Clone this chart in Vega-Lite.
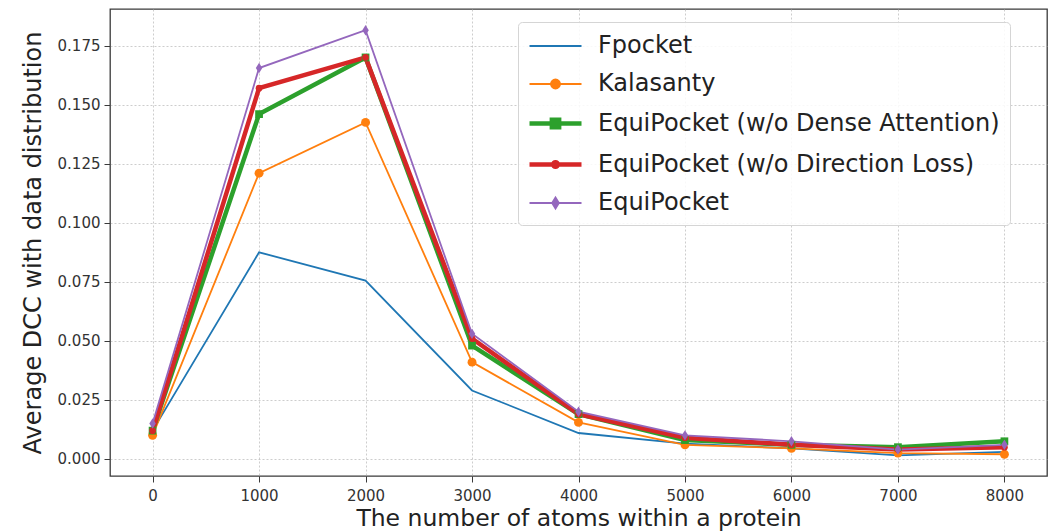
{
  "$schema": "https://vega.github.io/schema/vega-lite/v6.json",
  "width": 937,
  "height": 467,
  "autosize": {"type": "none"},
  "padding": {"left": 110, "top": 9, "right": 9, "bottom": 56},
  "background": "white",
  "config": {
    "font": "DejaVu Sans",
    "view": {"stroke": "#3a3a3a", "strokeWidth": 1.3},
    "axis": {
      "labelFont": "DejaVu Sans",
      "titleFont": "DejaVu Sans",
      "labelFontSize": 15,
      "labelColor": "#333",
      "titleFontSize": 23.5,
      "titleFontWeight": "normal",
      "titleColor": "#222",
      "tickColor": "#3a3a3a",
      "tickSize": 6,
      "domain": false,
      "gridColor": "#b8b8b8",
      "gridDash": [2, 2],
      "gridOpacity": 0.7,
      "gridWidth": 1
    }
  },
  "data": {
    "values": [
      {"method": "Fpocket", "atoms": 0, "dcc": 0.012},
      {"method": "Fpocket", "atoms": 1000, "dcc": 0.0875},
      {"method": "Fpocket", "atoms": 2000, "dcc": 0.0755},
      {"method": "Fpocket", "atoms": 3000, "dcc": 0.029},
      {"method": "Fpocket", "atoms": 4000, "dcc": 0.011},
      {"method": "Fpocket", "atoms": 5000, "dcc": 0.0065},
      {"method": "Fpocket", "atoms": 6000, "dcc": 0.0045},
      {"method": "Fpocket", "atoms": 7000, "dcc": 0.0015},
      {"method": "Fpocket", "atoms": 8000, "dcc": 0.003},
      {"method": "Kalasanty", "atoms": 0, "dcc": 0.010},
      {"method": "Kalasanty", "atoms": 1000, "dcc": 0.121},
      {"method": "Kalasanty", "atoms": 2000, "dcc": 0.1425},
      {"method": "Kalasanty", "atoms": 3000, "dcc": 0.041},
      {"method": "Kalasanty", "atoms": 4000, "dcc": 0.0155},
      {"method": "Kalasanty", "atoms": 5000, "dcc": 0.006},
      {"method": "Kalasanty", "atoms": 6000, "dcc": 0.0045},
      {"method": "Kalasanty", "atoms": 7000, "dcc": 0.0025},
      {"method": "Kalasanty", "atoms": 8000, "dcc": 0.002},
      {"method": "EquiPocket (w/o Dense Attention)", "atoms": 0, "dcc": 0.012},
      {"method": "EquiPocket (w/o Dense Attention)", "atoms": 1000, "dcc": 0.146},
      {"method": "EquiPocket (w/o Dense Attention)", "atoms": 2000, "dcc": 0.170},
      {"method": "EquiPocket (w/o Dense Attention)", "atoms": 3000, "dcc": 0.048},
      {"method": "EquiPocket (w/o Dense Attention)", "atoms": 4000, "dcc": 0.019},
      {"method": "EquiPocket (w/o Dense Attention)", "atoms": 5000, "dcc": 0.008},
      {"method": "EquiPocket (w/o Dense Attention)", "atoms": 6000, "dcc": 0.006},
      {"method": "EquiPocket (w/o Dense Attention)", "atoms": 7000, "dcc": 0.005},
      {"method": "EquiPocket (w/o Dense Attention)", "atoms": 8000, "dcc": 0.0075},
      {"method": "EquiPocket (w/o Direction Loss)", "atoms": 0, "dcc": 0.012},
      {"method": "EquiPocket (w/o Direction Loss)", "atoms": 1000, "dcc": 0.157},
      {"method": "EquiPocket (w/o Direction Loss)", "atoms": 2000, "dcc": 0.170},
      {"method": "EquiPocket (w/o Direction Loss)", "atoms": 3000, "dcc": 0.051},
      {"method": "EquiPocket (w/o Direction Loss)", "atoms": 4000, "dcc": 0.019},
      {"method": "EquiPocket (w/o Direction Loss)", "atoms": 5000, "dcc": 0.009},
      {"method": "EquiPocket (w/o Direction Loss)", "atoms": 6000, "dcc": 0.006},
      {"method": "EquiPocket (w/o Direction Loss)", "atoms": 7000, "dcc": 0.004},
      {"method": "EquiPocket (w/o Direction Loss)", "atoms": 8000, "dcc": 0.005},
      {"method": "EquiPocket", "atoms": 0, "dcc": 0.015},
      {"method": "EquiPocket", "atoms": 1000, "dcc": 0.1655},
      {"method": "EquiPocket", "atoms": 2000, "dcc": 0.1815},
      {"method": "EquiPocket", "atoms": 3000, "dcc": 0.053},
      {"method": "EquiPocket", "atoms": 4000, "dcc": 0.020},
      {"method": "EquiPocket", "atoms": 5000, "dcc": 0.010},
      {"method": "EquiPocket", "atoms": 6000, "dcc": 0.0075},
      {"method": "EquiPocket", "atoms": 7000, "dcc": 0.004},
      {"method": "EquiPocket", "atoms": 8000, "dcc": 0.006}
    ]
  },
  "encoding": {
    "x": {
      "field": "atoms", "type": "quantitative",
      "scale": {"domain": [-400, 8400], "nice": false, "zero": false},
      "axis": {"values": [0, 1000, 2000, 3000, 4000, 5000, 6000, 7000, 8000], "format": "d", "title": "The number of atoms within a protein", "labelPadding": 6, "titlePadding": 3}
    },
    "y": {
      "field": "dcc", "type": "quantitative",
      "scale": {"domain": [-0.0072, 0.1905], "nice": false, "zero": false},
      "axis": {"values": [0, 0.025, 0.05, 0.075, 0.1, 0.125, 0.15, 0.175], "format": ".3f", "title": "Average DCC with data distribution", "titleFontSize": 24, "labelPadding": 4, "titlePadding": 12}
    }
  },
  "layer": [
    {
      "mark": {"type": "line", "clip": true},
      "encoding": {
        "color": {
          "field": "method", "type": "nominal",
          "scale": {
            "domain": ["Fpocket", "Kalasanty", "EquiPocket (w/o Dense Attention)", "EquiPocket (w/o Direction Loss)", "EquiPocket"],
            "range": ["#1f77b4", "#ff7f0e", "#2ca02c", "#d62728", "#9467bd"]
          },
          "legend": {
            "title": null,
            "orient": "none",
            "legendX": 408,
            "legendY": 13,
            "padding": 10,
            "fillColor": "rgba(255,255,255,0.85)",
            "strokeColor": "#d5d5d5",
            "cornerRadius": 4,
            "symbolType": "M-2,0H2",
            "symbolSize": 676,
            "symbolOffset": 12,
            "labelFontSize": 24,
            "labelFont": "DejaVu Sans",
            "labelColor": "#222",
            "labelOffset": 27,
            "rowPadding": 12,
            "labelLimit": 600,
            "encode": {
              "symbols": {
                "update": {
                  "shape": {"signal": "datum.value === 'Kalasanty' ? 'M-2,0H2M0.35,0A0.35,0.35 0 1,1 -0.35,0A0.35,0.35 0 1,1 0.35,0Z' : datum.value === 'EquiPocket (w/o Dense Attention)' ? 'M-2,0H2M-0.28,-0.28H0.28V0.28H-0.28Z' : datum.value === 'EquiPocket (w/o Direction Loss)' ? 'M-2,0H2M0.18,0A0.18,0.18 0 1,1 -0.18,0A0.18,0.18 0 1,1 0.18,0Z' : datum.value === 'EquiPocket' ? 'M-2,0H2M0,-0.42L0.26,0L0,0.42L-0.26,0Z' : 'M-2,0H2'"},
                  "fill": {"scale": "color", "field": "value"},
                  "fillOpacity": {"value": 1},
                  "stroke": {"scale": "color", "field": "value"}
                }
              }
            }
          }
        },
        "strokeWidth": {
          "field": "method", "type": "nominal",
          "scale": {
            "type": "ordinal",
            "domain": ["Fpocket", "Kalasanty", "EquiPocket (w/o Dense Attention)", "EquiPocket (w/o Direction Loss)", "EquiPocket"],
            "range": [1.8, 1.8, 4.5, 4.5, 1.8]
          }
        }
      }
    },
    {
      "mark": {"type": "point", "filled": true, "opacity": 1, "clip": true},
      "encoding": {
        "fill": {
          "field": "method", "type": "nominal",
          "scale": {
            "domain": ["Kalasanty", "EquiPocket (w/o Dense Attention)", "EquiPocket (w/o Direction Loss)", "EquiPocket", "Fpocket"],
            "range": ["#ff7f0e", "#2ca02c", "#d62728", "#9467bd", "#1f77b4"]
          },
          "legend": null
        },
        "shape": {
          "field": "method", "type": "nominal",
          "scale": {
            "domain": ["Kalasanty", "EquiPocket (w/o Dense Attention)", "EquiPocket (w/o Direction Loss)", "EquiPocket", "Fpocket"],
            "range": ["circle", "square", "circle", "M0,-1L0.62,0L0,1L-0.62,0Z", "M0,0Z"]
          },
          "legend": null
        },
        "size": {
          "field": "method", "type": "nominal",
          "scale": {
            "type": "ordinal",
            "domain": ["Kalasanty", "EquiPocket (w/o Dense Attention)", "EquiPocket (w/o Direction Loss)", "EquiPocket", "Fpocket"],
            "range": [80, 60, 45, 110, 0]
          },
          "legend": null
        }
      }
    }
  ]
}
